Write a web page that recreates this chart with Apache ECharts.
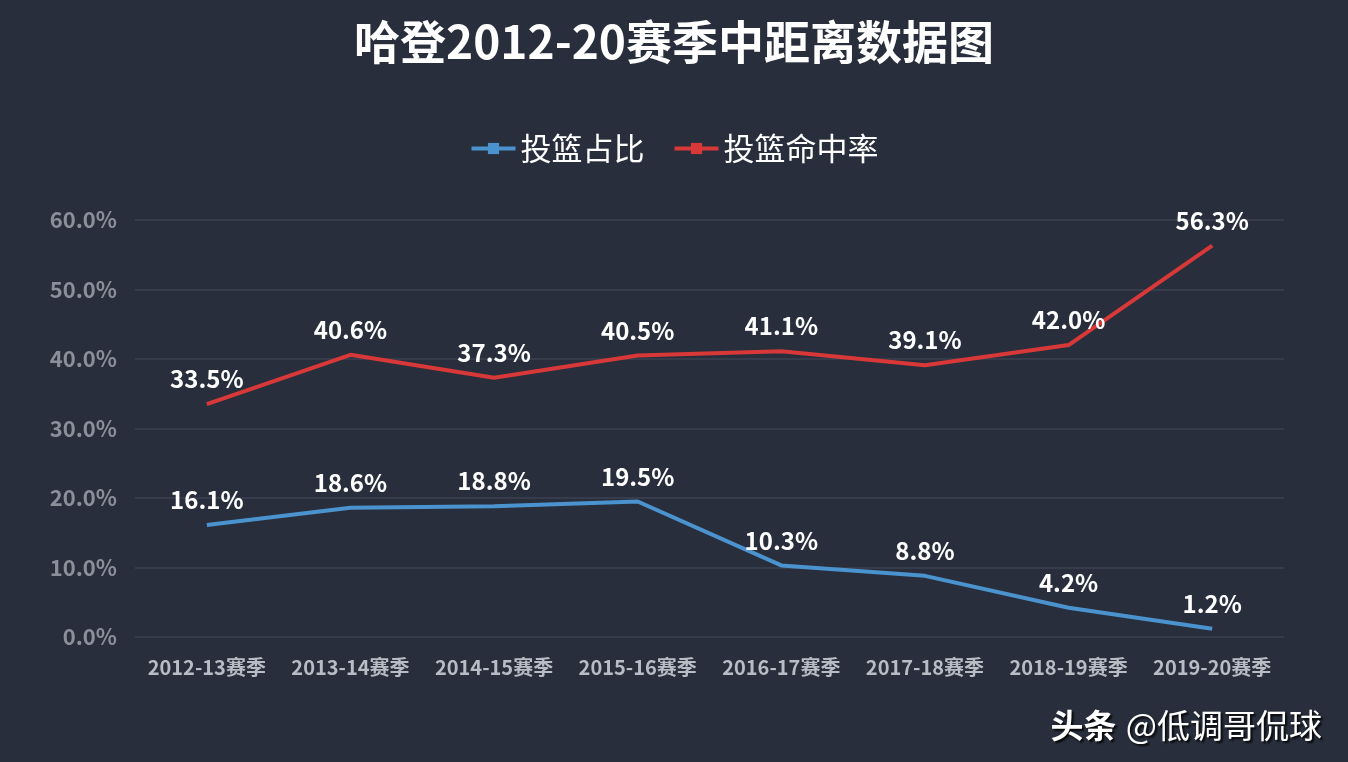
<!DOCTYPE html>
<html>
<head>
<meta charset="utf-8">
<script src="https://cdn.jsdelivr.net/npm/echarts@6/dist/echarts.min.js"></script>
<style>
  html, body { margin: 0; padding: 0; background: #282e3b; }
  #main { width: 1348px; height: 762px; }
</style>
</head>
<body>
<div id="main"></div>
<script>
  var seasons = ['2012-13赛季', '2013-14赛季', '2014-15赛季', '2015-16赛季', '2016-17赛季', '2017-18赛季', '2018-19赛季', '2019-20赛季'];
  // 投篮占比 (%)
  var shotShare = [16.1, 18.6, 18.8, 19.5, 10.3, 8.8, 4.2, 1.2];
  // 投篮命中率 (%)
  var fgPct = [33.5, 40.6, 37.3, 40.5, 41.1, 39.1, 42.0, 56.3];

  var myChart = echarts.init(document.getElementById('main'));
  var font = '"Noto Sans CJK SC", "Noto Sans", sans-serif';

  var labelStyle = {
    show: true,
    position: 'top',
    distance: 13,
    color: '#ffffff',
    fontSize: 24,
    fontWeight: 'bold',
    fontFamily: font,
    formatter: function (p) { return p.value.toFixed(1) + '%'; }
  };

  var option = {
    backgroundColor: '#282e3b',
    title: {
      text: '哈登2012-20赛季中距离数据图',
      left: 'center',
      top: 14,
      textStyle: { color: '#ffffff', fontSize: 46, fontWeight: 'bold', fontFamily: font }
    },
    legend: {
      top: 128,
      left: 'center',
      itemWidth: 44,
      itemHeight: 14,
      itemGap: 28,
      itemStyle: { borderWidth: 0 },
      lineStyle: { width: 4 },
      textStyle: { color: '#ffffff', fontSize: 31, fontFamily: font }
    },
    grid: { left: 135, right: 64, top: 220, bottom: 125, containLabel: false },
    xAxis: {
      type: 'category',
      data: seasons,
      axisLine: { show: false },
      axisTick: { show: false },
      axisLabel: { color: '#b8bcc4', fontSize: 20, fontWeight: 'bold', fontFamily: font, margin: 20, interval: 0 }
    },
    yAxis: {
      type: 'value',
      min: 0,
      max: 60,
      interval: 10,
      axisLine: { show: false },
      axisTick: { show: false },
      axisLabel: {
        color: '#8a8f9a',
        fontSize: 22,
        fontWeight: 'bold',
        fontFamily: font,
        margin: 18,
        formatter: function (v) { return v.toFixed(1) + '%'; }
      },
      splitLine: { lineStyle: { color: '#3b4252', width: 1.5 } }
    },
    series: [
      {
        name: '投篮占比',
        type: 'line',
        data: shotShare,
        symbol: 'rect',
        symbolSize: 0,
        showSymbol: true,
        color: '#4b93cf',
        lineStyle: { width: 4, color: '#4b93cf' },
        label: labelStyle
      },
      {
        name: '投篮命中率',
        type: 'line',
        data: fgPct,
        symbol: 'rect',
        symbolSize: 0,
        showSymbol: true,
        color: '#d93838',
        lineStyle: { width: 4, color: '#d93838' },
        label: labelStyle
      }
    ],
    graphic: [{
      type: 'text',
      right: 26,
      bottom: 20,
      style: {
        text: '{b|头条} {r|@低调哥侃球}',
        rich: {
          b: { fill: '#ffffff', fontSize: 33, fontWeight: 'bold', fontFamily: font },
          r: { fill: '#ffffff', fontSize: 33, fontWeight: 'normal', fontFamily: font }
        },
        fill: '#ffffff',
        fontSize: 33,
        textShadowColor: 'rgba(0,0,0,0.85)',
        textShadowBlur: 2,
        textShadowOffsetX: 2,
        textShadowOffsetY: 2
      }
    }]
  };
  myChart.setOption(option);

  window.addEventListener('resize', function () {
    myChart.resize();
  });
</script>
</body>
</html>
